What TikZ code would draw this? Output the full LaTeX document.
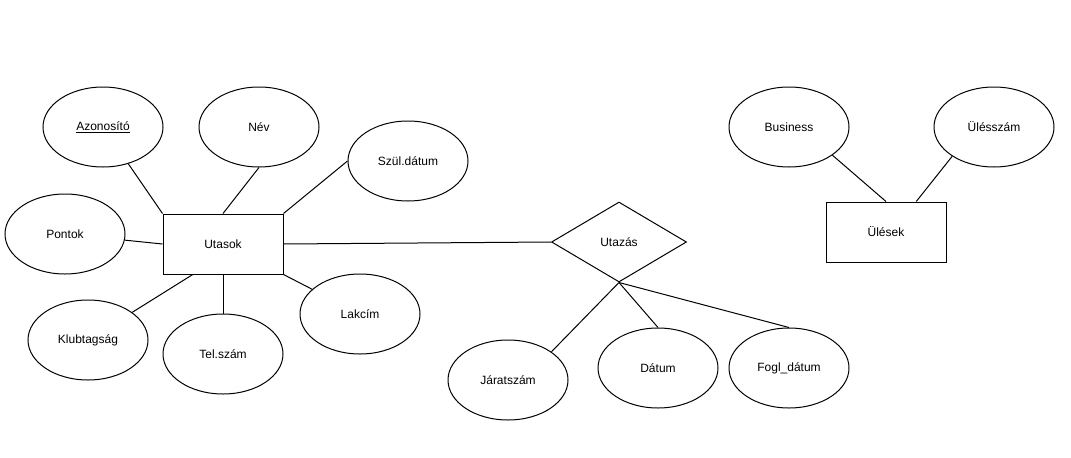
\documentclass[tikz,border=0pt]{standalone}
\usepackage{fontspec}
\setmainfont{Liberation Sans}
\usetikzlibrary{shapes.geometric,calc}

\begin{document}
\begin{tikzpicture}[
    x=0.75pt, y=-0.75pt,
    font=\fontsize{9}{11}\selectfont,
    every path/.style={line width=0.75pt},
    attr/.style={draw, ellipse, minimum width=90pt, minimum height=60pt, inner sep=0pt},
    entity/.style={draw, rectangle, minimum width=90pt, minimum height=45pt, inner sep=0pt},
    rel/.style={draw, diamond, minimum width=101.25pt, minimum height=60pt, aspect=1.69, inner sep=0pt},
]
    \useasboundingbox (0,0) rectangle (1071,457);

    % --- Utasok entity ---
    \node[entity] (utasok) at (223, 244) {Utasok};
    \node[attr] (azon) at (103, 127) {\underline{Azonosító}};
    \node[attr] (nev) at (259, 127) {Név};
    \node[attr] (szul) at (408, 161) {Szül.dátum};
    \node[attr] (pontok) at (65, 234) {Pontok};
    \node[attr] (klub) at (88, 340) {Klubtagság};
    \node[attr] (tel) at (223, 354) {Tel.szám};
    \node[attr] (lakcim) at (360, 314) {Lakcím};

    \draw (azon) -- (utasok.north west);
    \draw (nev.south) -- (utasok.north);
    \draw (szul.west) -- (utasok.north east);
    \draw (pontok) -- (utasok.west);
    \draw (klub) -- ($(utasok.south west)!.25!(utasok.south east)$);
    \draw (utasok.south) -- (tel.north);
    \draw (utasok.south east) -- (lakcim);

    % --- Utazás relation ---
    \node[rel] (utazas) at (619, 242) {Utazás};
    \node[attr] (jarat) at (508, 380) {Járatszám};
    \node[attr] (datum) at (658, 368) {Dátum};
    \node[attr] (fogl) at (789, 368) {Fogl\_dátum};

    \draw (utasok.east) -- (utazas.west);
    \draw (utazas.south) -- (jarat.33);
    \draw (utazas.south) -- (datum.north);
    \draw (utazas.south) -- (fogl.north);

    % --- Ülések entity ---
    \node[entity] (ulesek) at (886, 232) {Ülések};
    \node[attr] (business) at (789, 127) {Business};
    \node[attr] (ulesszam) at (994, 127) {Ülésszám};

    \draw (business.-33) -- (ulesek.north);
    \draw (ulesszam.215) -- ($(ulesek.north west)!.75!(ulesek.north east)$);

\end{tikzpicture}
\end{document}
